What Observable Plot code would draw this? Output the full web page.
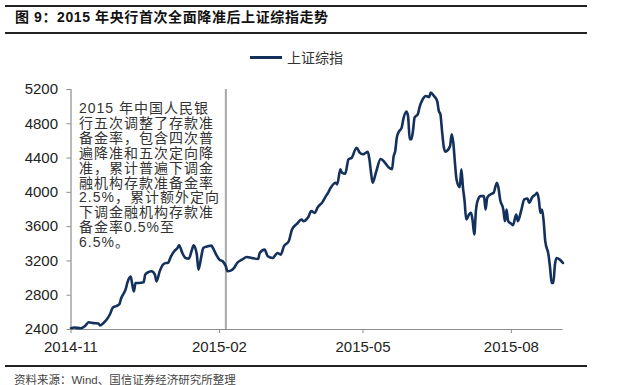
<!DOCTYPE html>
<html>
<head>
<meta charset="utf-8">
<script src="https://cdn.jsdelivr.net/npm/d3@7"></script>
<script src="https://cdn.jsdelivr.net/npm/@observablehq/plot@0.6"></script>
<style>
  body { margin: 0; background: #fff; }
  #wrap { position: relative; width: 623px; height: 385px; overflow: hidden; font-family: "Liberation Sans", Arial, "Noto Sans CJK SC", sans-serif; }
  .rule { position: absolute; left: 5px; width: 582px; height: 0; border-top: 2px solid #222; }
  #title { position: absolute; left: 15px; top: 8px; font-size: 14px; letter-spacing: 0.6px; font-weight: bold; color: #111; line-height: 18px; white-space: nowrap; font-family: "Liberation Sans", Arial, "Noto Sans CJK SC", sans-serif; }
  #legend { position: absolute; left: 250px; top: 48px; height: 18px; display: flex; align-items: center; }
  #legend .sw { width: 32px; height: 3px; background: #13315c; margin-right: 5px; }
  #legend span { font-size: 14px; color: #333; font-family: "Noto Sans CJK SC", sans-serif; line-height: 18px; }
  #note { position: absolute; left: 79px; top: 101px; font-size: 14px; line-height: 14.9px; letter-spacing: 1px; color: #333; white-space: pre; font-family: "Liberation Sans", "Noto Sans CJK SC", sans-serif; }
  #caption { position: absolute; left: 14px; top: 373px; font-size: 11.5px; line-height: 14px; color: #444; white-space: nowrap; font-family: "Liberation Sans", "Noto Sans CJK SC", sans-serif; }
  #chart { position: absolute; left: 0; top: 75px; }
</style>
</head>
<body>
<div id="wrap">
  <div class="rule" style="top:5px"></div>
  <div id="title">图 9：2015 年央行首次全面降准后上证综指走势</div>
  <div class="rule" style="top:32px"></div>
  <div id="legend"><div class="sw"></div><span>上证综指</span></div>
  <div id="chart"></div>
  <div id="note"></div>
  <div class="rule" style="top:365px"></div>
  <div id="caption">资料来源：Wind、国信证券经济研究所整理</div>
</div>
<script>
const seriesName = "上证综指";
const dates = [
  "2014-11-01","2014-11-03","2014-11-07","2014-11-10","2014-11-12","2014-11-15","2014-11-18","2014-11-19","2014-11-21","2014-11-23","2014-11-25","2014-11-27","2014-11-29",
  "2014-12-01","2014-12-02","2014-12-05","2014-12-06","2014-12-08","2014-12-09","2014-12-10","2014-12-11","2014-12-13","2014-12-16","2014-12-17","2014-12-19","2014-12-21","2014-12-23","2014-12-24","2014-12-26","2014-12-28","2014-12-30","2014-12-31",
  "2015-01-02","2015-01-04","2015-01-06","2015-01-07","2015-01-09","2015-01-11","2015-01-13","2015-01-15","2015-01-16","2015-01-18","2015-01-19","2015-01-21","2015-01-22","2015-01-25","2015-01-27","2015-01-28","2015-01-30",
  "2015-02-01","2015-02-03","2015-02-05","2015-02-06","2015-02-08","2015-02-10","2015-02-12","2015-02-15","2015-02-18","2015-02-21","2015-02-25","2015-02-26",
  "2015-03-01","2015-03-03","2015-03-06","2015-03-09","2015-03-11","2015-03-13","2015-03-16","2015-03-18","2015-03-21","2015-03-24","2015-03-25","2015-03-28","2015-03-30",
  "2015-04-01","2015-04-03","2015-04-06","2015-04-08","2015-04-09","2015-04-11","2015-04-14","2015-04-15","2015-04-17","2015-04-18","2015-04-20","2015-04-22","2015-04-24","2015-04-27","2015-04-29",
  "2015-05-01","2015-05-04","2015-05-05","2015-05-06","2015-05-07","2015-05-09","2015-05-12","2015-05-14","2015-05-17","2015-05-19","2015-05-20","2015-05-21","2015-05-22","2015-05-23","2015-05-25","2015-05-26","2015-05-28","2015-05-29","2015-05-30","2015-05-31",
  "2015-06-01","2015-06-02","2015-06-04","2015-06-05","2015-06-07","2015-06-09","2015-06-11","2015-06-12","2015-06-14","2015-06-16","2015-06-17","2015-06-18","2015-06-19","2015-06-20","2015-06-21","2015-06-22","2015-06-24","2015-06-25","2015-06-26","2015-06-27","2015-06-28","2015-06-30",
  "2015-07-01","2015-07-02","2015-07-03","2015-07-04","2015-07-06","2015-07-07","2015-07-08","2015-07-09","2015-07-10","2015-07-11","2015-07-13","2015-07-15","2015-07-16","2015-07-17","2015-07-19","2015-07-21","2015-07-23","2015-07-24","2015-07-25","2015-07-27","2015-07-28","2015-07-29","2015-07-30",
  "2015-08-01","2015-08-02","2015-08-04","2015-08-05","2015-08-07","2015-08-09","2015-08-11","2015-08-12","2015-08-14","2015-08-16","2015-08-17","2015-08-18","2015-08-19","2015-08-20","2015-08-21","2015-08-22","2015-08-24","2015-08-25","2015-08-26","2015-08-27","2015-08-28","2015-08-29","2015-08-31",
  "2015-09-02"
];
const values = [
  2415,2423,2415,2447,2485,2474,2470,2447,2474,2513,2572,2657,2673,
  2696,2759,2876,2950,3017,2923,2845,2942,2942,2950,3040,3070,3079,3040,2962,3079,3157,3176,3176,
  3254,3313,3351,3383,3293,3234,3227,3332,3383,3274,3098,3274,3351,3371,3379,3351,3274,
  3215,3196,3137,3079,3087,3117,3176,3215,3246,3234,3223,3293,
  3332,3254,3234,3293,3274,3371,3430,3567,3632,3683,3664,3710,3781,
  3761,3827,3889,3956,3983,4053,4112,4093,4268,4229,4217,4385,4404,4521,4463,
  4444,4474,4385,4229,4112,4229,4390,4360,4290,4270,4420,4483,4640,4700,4756,4853,4943,4880,4619,4619,
  4717,4873,4912,4989,5085,5124,5112,5163,5124,5066,4951,4912,4717,4541,4475,4483,4541,4678,4580,4346,4151,4061,
  4268,4053,3898,3683,3749,3761,3664,3508,3781,3898,3956,3956,3800,3936,3976,3995,4112,4053,3918,3800,3664,3800,3664,
  3632,3617,3742,3664,3781,3918,3929,3878,3944,3976,3995,3918,3761,3800,3664,3430,3274,3117,2942,2942,3157,3234,3215,
  3176
];
const xDomain = ["2014-11-01", "2015-09-02"];
const xTicks = ["2014-11-01", "2015-02-01", "2015-05-01", "2015-08-01"];
const yTicks = [2400, 2800, 3200, 3600, 4000, 4400, 4800, 5200];
const eventDate = "2015-02-05";
const noteLines = [
  "2015 年中国人民银",
  "行五次调整了存款准",
  "备金率，包含四次普",
  "遍降准和五次定向降",
  "准，累计普遍下调金",
  "融机构存款准备金率",
  "2.5%，累计额外定向",
  "下调金融机构存款准",
  "备金率0.5%至",
  "6.5%。"
];

const parse = s => new Date(s + "T00:00:00Z");
const data = dates.map((d, i) => ({date: parse(d), value: values[i]}));

document.getElementById("note").textContent = noteLines.join("\n");

const chart = Plot.plot({
  width: 623,
  height: 290,
  marginTop: 14,
  marginBottom: 36,
  marginLeft: 70.5,
  marginRight: 60.5,
  style: {fontFamily: "'Liberation Sans', Arial, sans-serif", fontSize: "15px", color: "#222", background: "transparent", overflow: "visible"},
  x: {type: "utc", domain: xDomain.map(parse)},
  y: {domain: [yTicks[0], yTicks[yTicks.length - 1]]},
  marks: [
    Plot.ruleX([parse(eventDate)], {stroke: "#a8a8a8", strokeWidth: 2}),
    Plot.ruleY([yTicks[0]], {stroke: "#8c8c8c", strokeWidth: 1.2}),
    Plot.ruleX([parse(xDomain[0])], {stroke: "#8c8c8c", strokeWidth: 1.2}),
    Plot.lineY(data, {x: "date", y: "value", stroke: "#13315c", strokeWidth: 2.6, curve: "monotone-x"}),
    Plot.axisX({ticks: xTicks.map(parse), tickFormat: d3.utcFormat("%Y-%m"), label: null, tickSize: 4, tickPadding: 8, stroke: "#8c8c8c", fill: "#222"}),
    Plot.axisY({ticks: yTicks, tickFormat: d => String(d), label: null, tickSize: 4, tickPadding: 9, stroke: "#8c8c8c", fill: "#222"})
  ]
});
document.getElementById("chart").appendChild(chart);
</script>
</body>
</html>
